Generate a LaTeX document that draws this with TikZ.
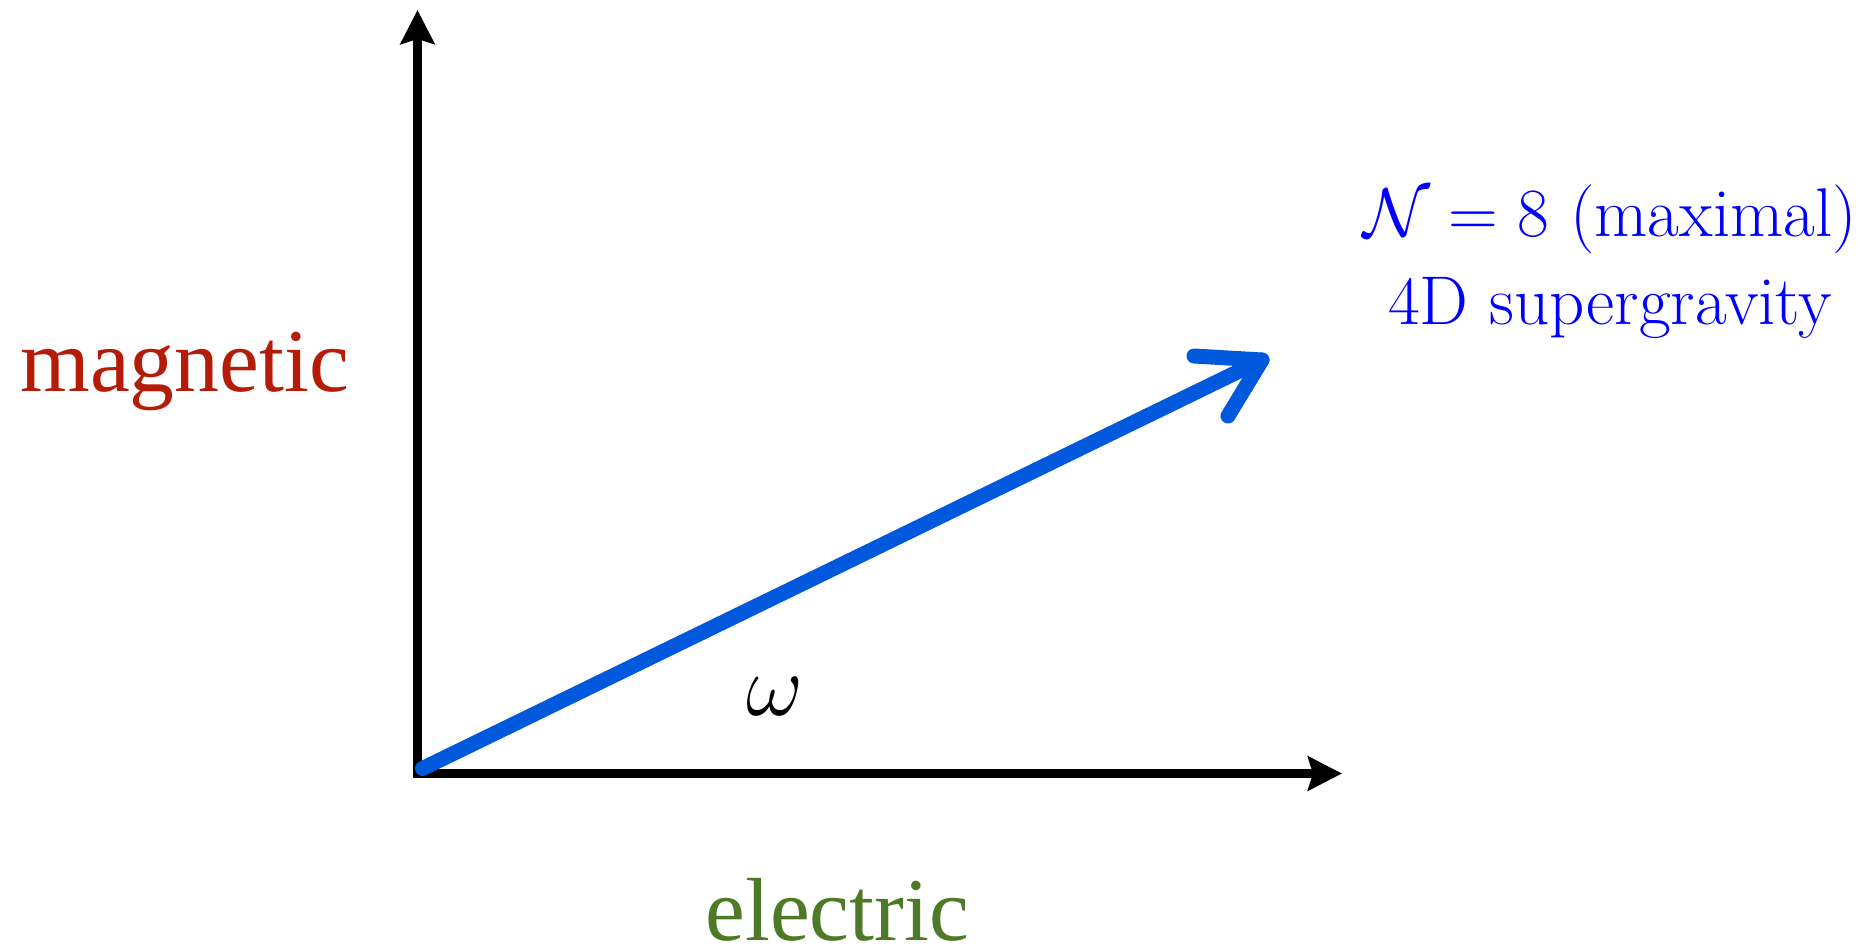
\RequirePackage{fix-cm}
\documentclass[tikz,border=0pt]{standalone}
\usepackage{fontspec}
\newfontfamily\timesfont{Liberation Serif}
\usetikzlibrary{arrows.meta}
\definecolor{magred}{RGB}{180,28,8}
\definecolor{elgreen}{RGB}{78,122,40}
\definecolor{chalkblue}{RGB}{0,88,220}
\definecolor{txtblue}{RGB}{0,0,255}
\tikzset{
  axis/.style={line width=4.6pt,-{Stealth[length=17pt,width=17pt,inset=2.5pt]}},
  chalk/.style={line width=7.5pt,chalkblue,line cap=round,line join=round},
  axislabel/.style={inner sep=0pt,anchor=base west,font=\timesfont\fontsize{44.8}{50}\selectfont},
  bluelabel/.style={inner sep=0pt,anchor=base,text=txtblue,font=\fontsize{34.5}{40}\selectfont}
}
\begin{document}
\begin{tikzpicture}[x=0.5pt,y=-0.5pt]
\useasboundingbox (0,0) rectangle (1869,952);
\coordinate (O) at (417.5,773.5);
\coordinate (Ytop) at (417.5,10);
\coordinate (Xend) at (1342,773.5);
\coordinate (tip) at (1262,360);
\coordinate (barbA) at (1194,356);
\coordinate (barbB) at (1228,416);
\draw[axis] ([yshift=-2.3pt]O) -- (Ytop);
\draw[axis] ([xshift=-2.3pt]O) -- (Xend);
\draw[chalk] ([shift={(5,-5)}]O) -- (tip);
\draw[chalk] (barbA) -- (tip) -- (barbB);
\node[axislabel,text=magred] (mag) at (20,392) {magnetic};
\node[axislabel,text=elgreen] (ele) at (705,940) {electric};
\node[inner sep=0pt,font=\fontsize{44}{50}\selectfont] (om) at (775,697) {$\omega$};
\node[bluelabel] (l1) at (1610,237) {$\mathcal{N}=8$ (maximal)};
\node[bluelabel] (l2) at (1610,325) {4D supergravity};
\end{tikzpicture}
\end{document}
